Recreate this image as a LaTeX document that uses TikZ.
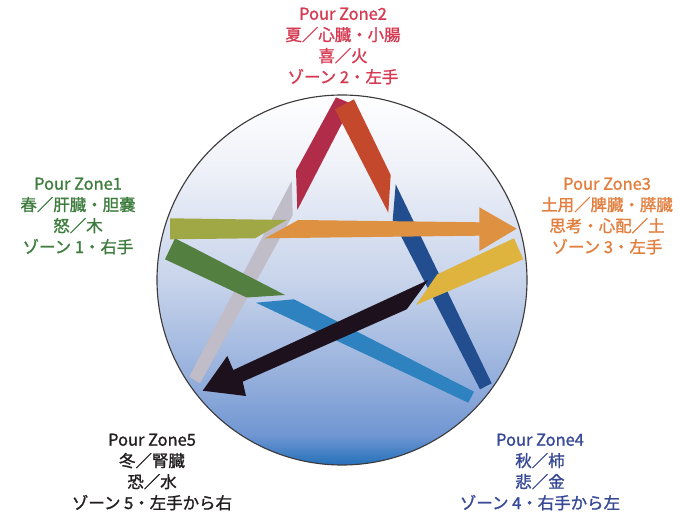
\documentclass[tikz,border=0pt]{standalone}
\usepackage{fontspec}
\setmainfont{Noto Sans CJK JP}[FakeBold=1.3]
\usepackage{xcolor}
\usepackage{tikz}
\definecolor{woodtext}{RGB}{62,125,62}
\definecolor{firetext}{RGB}{214,58,82}
\definecolor{earthtext}{RGB}{226,126,62}
\definecolor{metaltext}{RGB}{56,74,150}
\definecolor{watertext}{RGB}{35,31,32}
\definecolor{rimgrey}{RGB}{60,58,60}
\definecolor{crimson}{RGB}{176,44,72}
\definecolor{rust}{RGB}{196,72,44}
\definecolor{navyband}{RGB}{34,78,143}
\definecolor{skyband}{RGB}{47,130,192}
\definecolor{ashband}{RGB}{192,188,200}
\definecolor{leafband}{RGB}{83,127,64}
\definecolor{oliveband}{RGB}{160,168,70}
\definecolor{amberband}{RGB}{222,145,64}
\definecolor{goldband}{RGB}{222,180,62}
\definecolor{inkband}{RGB}{28,17,28}
\definecolor{ballbottom}{RGB}{36,113,186}
\definecolor{balllow}{RGB}{112,150,210}
\definecolor{ballmid}{RGB}{150,176,220}
\definecolor{ballhigh}{RGB}{200,212,235}
\definecolor{balltop}{RGB}{238,241,248}
\pgfdeclareverticalshading{skyball}{100bp}{
  color(0bp)=(ballbottom); color(25bp)=(ballbottom);
  color(29bp)=(balllow); color(37bp)=(ballmid);
  color(50bp)=(ballhigh); color(65bp)=(balltop);
  color(75bp)=(white); color(100bp)=(white)}
\tikzset{
  zonetext/.style={
    align=center,
    inner sep=0pt,
    font=\fontsize{11.7}{15}\selectfont
  },
  band/.style={draw=none}
}

\begin{document}
\begin{tikzpicture}[x=0.025cm,y=-0.025cm]
  \useasboundingbox (0,0) rectangle (691,517);
  \shadedraw[shading=skyball,draw=rimgrey,line width=0.8pt] (342,280) circle (185);

  \fill[band,navyband] (395.7,184.3) -- (491.7,383.3) -- (480,389.3) -- (392.7,220) -- cycle;
  \fill[band,skyband] (256,302.7) -- (294,299.3) -- (474,391.7) -- (468.3,402.7) -- cycle;
  \fill[band,ashband] (291.7,181) -- (292.7,215) -- (200,383.3) -- (189.3,376.7) -- cycle;
  \fill[band,leafband] (175,238.3) -- (285,295) -- (246.7,297.5) -- (165,259.3) -- cycle;
  \fill[band,oliveband] (170,218.3) -- (286.7,220) -- (255,238.3) -- (170,239.3) -- cycle;
  \fill[band,crimson] (336,97.3) -- (352,104) -- (297.3,210) -- (296,170.7) -- cycle;
  \fill[band,rust] (335,109.3) -- (354,99.3) -- (390.7,175) -- (388.3,212.7) -- cycle;
  \fill[band,amberband] (298.3,220) -- (479.3,222.3) -- (479.3,207.3) -- (516.7,228.7)
    -- (479.3,251) -- (479.3,235.7) -- (265,238.3) -- cycle;
  \fill[band,goldband] (514,238.3) -- (523.3,259.3) -- (416,305) -- (437.3,274.3) -- cycle;
  \fill[band,inkband] (428.3,280) -- (406.7,309.3) -- (242.7,381.7) -- (246,396)
    -- (202.7,390.7) -- (227.3,356) -- (233.3,370) -- cycle;

  \node[zonetext,text=firetext] (zone2) at (343,46) {Pour Zone2\\夏／心臓・小腸\\喜／火\\ゾーン 2・左手};
  \node[zonetext,text=woodtext] (zone1) at (78,216) {Pour Zone1\\春／肝臓・胆嚢\\怒／木\\ゾーン 1・右手};
  \node[zonetext,text=earthtext] (zone3) at (607,216) {Pour Zone3\\土用／脾臓・膵臓\\思考・心配／土\\ゾーン 3・左手};
  \node[zonetext,text=watertext] (zone5) at (152,472) {Pour Zone5\\冬／腎臓\\恐／水\\ゾーン 5・左手から右};
  \node[zonetext,text=metaltext] (zone4) at (540,472) {Pour Zone4\\秋／柿\\悲／金\\ゾーン 4・右手から左};
\end{tikzpicture}
\end{document}
